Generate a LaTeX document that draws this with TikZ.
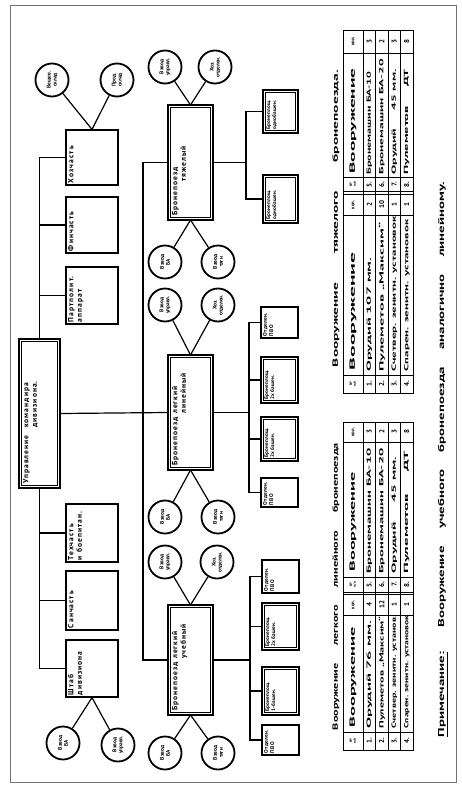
\documentclass[tikz,border=0pt]{standalone}
\usepackage{fontspec}
\usepackage{graphicx}
\usetikzlibrary{calc}
\setmainfont{PT Sans}
\newcommand\hs[2]{\resizebox{#1}{\height}{#2}}
\newcommand\bt[3]{\parbox[c][#2pt][t]{#1pt}{\raggedright #3}}
\newcommand\dfr[1]{\draw[line width=0.5pt] let \p1=(#1.north west),\p2=(#1.south east) in
  (\x1+2.5pt,\y1+2.5pt) rectangle (\x2-2.5pt,\y2-2.5pt);}
\newcommand\halfrow[8]{%
  \node[tn] at (#1,#2) {#3};
  \node[tc,anchor=west] at (#1,#4) {\hs{#5pt}{#6}};
  \node[tn] at (#1,#7) {#8};}
\begin{document}
\begin{tikzpicture}[x=1pt,y=-1pt,line width=1.2pt,
  every node/.style={rotate=90},
  bx/.style={draw,inner sep=2pt,line width=1.2pt,
    font=\fontsize{7.5}{8.5}\selectfont\bfseries\addfontfeature{LetterSpace=14}},
  dbx/.style={bx,line width=1.9pt,outer sep=0pt,inner sep=4.2pt},
  sbx/.style={bx,font=\fontsize{5.4}{6.2}\selectfont\bfseries\addfontfeature{LetterSpace=4}},
  sdbx/.style={dbx,inner sep=3.6pt,font=\fontsize{5.2}{6}\selectfont\bfseries\addfontfeature{LetterSpace=3}},
  crc/.style={draw,circle,minimum size=33pt,inner sep=0pt,line width=1.8pt,
    align=center,font=\fontsize{5.4}{5.9}\selectfont\bfseries},
  tline/.style={line width=0.8pt},
  tc/.style={inner sep=0pt,font=\fontsize{6}{6}\selectfont\bfseries},
  tn/.style={inner sep=0pt,font=\fontsize{7}{7}\selectfont\bfseries},
  th/.style={inner sep=0pt,align=center,font=\fontsize{3.6}{3.8}\selectfont\bfseries}]
\useasboundingbox (0,0) rectangle (462,787);
\fill[white] (0,0) rectangle (462,787);
\draw[line width=0.6pt,black!55] (10,5) rectangle (456,782);

% ---------- main box ----------
\node[dbx] (upr) at (39.5,413.5) {\bt{140.6}{32.6}{Управление\quad командира\\\hphantom{Управление\quad }дивизиона.}};
\dfr{upr}

% ---------- left column ----------
\node[bx] (hoz) at (92,157.5) {\bt{51}{48}{Хозчасть}};
\node[bx] (fin) at (92,225) {\bt{52}{48}{Финчасть}};
\node[bx] (part) at (92,295.5) {\bt{53}{48}{Партполит.\\аппарат}};
\node[bx] (teh) at (92,533) {\bt{54}{48}{Техчасть\\и боепитан.}};
\node[bx] (san) at (92,600.5) {\bt{55}{48}{Санчасть}};
\node[bx] (shtab) at (92,668.5) {\bt{53}{48}{Штаб\\дивизиона}};

\draw (upr.east) |- (hoz.north);
\draw (upr.east) |- (fin.north);
\draw (upr.east) |- (part.north);
\draw (upr.west) |- (teh.north);
\draw (upr.west) |- (san.north);
\draw (upr.west) |- (shtab.north);

\node[crc] (hz1) at (52,80) {Вещев.\\склад};
\node[crc] (hz2) at (117,80) {Прод.\\склад};
\draw (hoz.east) -- (hz1);
\draw (hoz.east) -- (hz2);
\node[crc] (sh1) at (63,743) {Взвод\\БА};
\node[crc] (sh2) at (118,745) {Взвод\\управл.};
\draw (shtab.west) -- (sh1);
\draw (shtab.west) -- (sh2);

% ---------- trains ----------
\node[dbx] (hv) at (190.5,162.5) {\bt{106.6}{36.6}{Бронепоезд\\\hphantom{Бронепо}тяжелый}};
\node[dbx] (ll) at (190.5,412.5) {\bt{106.6}{36.6}{Бронепоезд легкий\\\hphantom{Бронепоезд }линейный}};
\node[dbx] (tr) at (190.5,660) {\bt{101.6}{36.6}{Бронепоезд легкий\\\hphantom{Бронепоезд }учебный}};
\dfr{hv}\dfr{ll}\dfr{tr}

\coordinate (mbus) at (143,412.5);
\draw (upr.south) -- (ll.north);
\draw (mbus) |- (hv.north);
\draw (mbus) |- (tr.north);

% circles round the trains
\node[crc] (hu) at (165,67) {Взвод\\управл.};
\node[crc] (hh) at (215,67) {Хоз.\\отделен.};
\node[crc] (hb) at (165,262) {Взвод\\БА};
\node[crc] (ht) at (218,262) {Взвод\\тяги};
\draw (hv.east) -- (hu); \draw (hv.east) -- (hh);
\draw (hv.west) -- (hb); \draw (hv.west) -- (ht);

\node[crc] (lu) at (165,305) {Взвод\\управл.};
\node[crc] (lh) at (218,305) {Хоз.\\отделен.};
\node[crc] (lb) at (165,517) {Взвод\\БА};
\node[crc] (lt) at (218,517) {Взвод\\тяги};
\draw (ll.east) -- (lu); \draw (ll.east) -- (lh);
\draw (ll.west) -- (lb); \draw (ll.west) -- (lt);

\node[crc] (tu) at (165,562) {Взвод\\управл.};
\node[crc] (th) at (217,562) {Хоз.\\отделен.};
\node[crc] (tb) at (165,753) {Взвод\\БА};
\node[crc] (tt) at (218,753) {Взвод\\тяги};
\draw (tr.east) -- (tu); \draw (tr.east) -- (th);
\draw (tr.west) -- (tb); \draw (tr.west) -- (tt);

% ---------- right-hand sub-units ----------
\node[sdbx] (hb1) at (280.5,111.5) {\bt{35.8}{27.8}{Бронеплощ.\\однобашен.}};
\node[sdbx] (hb2) at (280.5,199) {\bt{40.8}{27.8}{Бронеплощ.\\однобашен.}};
\dfr{hb1}\dfr{hb2}
\coordinate (hbus) at (246,162.5);
\draw (hv.south) -- (hbus);
\draw (hbus) |- (hb1.north);
\draw (hbus) |- (hb2.north);

\node[sbx] (lp1) at (279.5,322.5) {\bt{27}{33}{Отделен.\\ПВО}};
\node[sdbx] (lb1) at (279.5,380) {\bt{38.8}{29.8}{Бронеплощ.\\2х башен.}};
\node[sdbx] (lb2) at (279.5,439) {\bt{36.8}{29.8}{Бронеплощ.\\2х башен.}};
\node[sbx] (lp2) at (279.5,492.5) {\bt{25}{33}{Отделен.\\ПВО}};
\dfr{lb1}\dfr{lb2}
\coordinate (lbus) at (249,412.5);
\draw (ll.south) -- (lbus);
\draw (lbus) |- (lp1.north);
\draw (lbus) |- (lb1.north);
\draw (lbus) |- (lb2.north);
\draw (lbus) |- (lp2.north);

\node[sbx] (tp1) at (280.5,576.5) {\bt{29}{33}{Отделен.\\ПВО}};
\node[sdbx] (tb1) at (280.5,626.5) {\bt{39.8}{29.8}{Бронеплощ.\\2х башен.}};
\node[sdbx] (tb2) at (280.5,691) {\bt{40.8}{29.8}{Бронеплощ.\\1-башен.}};
\node[sbx] (tp2) at (280.5,740) {\bt{26}{33}{Отделен.\\ПВО}};
\dfr{tb1}\dfr{tb2}
\coordinate (tbus) at (250,660);
\draw (tr.south) -- (tbus);
\draw (tbus) |- (tp1.north);
\draw (tbus) |- (tb1.north);
\draw (tbus) |- (tb2.north);
\draw (tbus) |- (tp2.north);

% ---------- heavy train table ----------
\node[inner sep=0pt,font=\fontsize{7.5}{8}\selectfont\bfseries] (t1) at (336,218.5)
  {\hs{297pt}{Вооружение\hspace{14pt}тяжелого\hspace{14pt}бронепоезда.}};
\draw[tline] (343,30) rectangle (413,393);
\foreach \x in {363,375.5,388,400.5} \draw[tline] (\x,30) -- (\x,393);
\foreach \y in {375,215,194.5,191.5,177,53} \draw[tline] (343,\y) -- (413,\y);
\node[th] at (353,384) {№\\п/п};
\node[tc,anchor=west] at (353,371) {\hs{118pt}{\fontsize{7.5}{7.5}\selectfont Вооружение}};
\node[tc] at (353,204.75) {\fontsize{5}{5}\selectfont кол.};
\node[th] at (353,184.25) {№\\п/п};
\node[tc,anchor=west] at (353,174) {\hs{105pt}{\fontsize{7.5}{7.5}\selectfont Вооружение}};
\node[tc] at (353,41.5) {\fontsize{5}{5}\selectfont кол.};
\halfrow{369.25}{384}{1.}{372}{114}{Орудий 107 мм.}{204.75}{2}
\halfrow{381.75}{384}{2.}{372}{149}{Пулеметов „Максим“}{204.75}{10}
\halfrow{394.25}{384}{3.}{372}{155}{Счетвер. зенитн. установок}{204.75}{1}
\halfrow{406.75}{384}{4.}{372}{152}{Спарен. зенитн. установок}{204.75}{1}
\halfrow{369.25}{184.25}{5.}{175}{103}{Бронемашин БА-10}{41.5}{3}
\halfrow{381.75}{184.25}{6.}{175}{115}{Бронемашин БА-20}{41.5}{2}
\halfrow{394.25}{184.25}{7.}{175}{105}{Орудий\hspace{8pt}45 мм.}{41.5}{3}
\halfrow{406.75}{184.25}{8.}{175}{105}{Пулеметов\hspace{8pt}ДТ}{41.5}{8}

% ---------- light train table ----------
\node[inner sep=0pt,font=\fontsize{7.5}{8}\selectfont\bfseries] (t2) at (336,586.5)
  {\hs{287pt}{Вооружение\hspace{11pt}легкого\hspace{11pt}линейного\hspace{11pt}бронепоезда}};
\draw[tline] (343,422) rectangle (413,750);
\foreach \x in {363,375.5,388,400.5} \draw[tline] (\x,422) -- (\x,750);
\foreach \y in {732,615,594.5,592,577,442} \draw[tline] (343,\y) -- (413,\y);
\node[th] at (353,741) {№\\п/п};
\node[tc,anchor=west] at (353,728) {\hs{100pt}{\fontsize{7.5}{7.5}\selectfont Вооружение}};
\node[tc] at (353,604.75) {\fontsize{5}{5}\selectfont кол.};
\node[th] at (353,584.5) {№\\п/п};
\node[tc,anchor=west] at (353,572) {\hs{99pt}{\fontsize{7.5}{7.5}\selectfont Вооружение}};
\node[tc] at (353,432) {\fontsize{5}{5}\selectfont кол.};
\halfrow{369.25}{741}{1.}{729}{108}{Орудий 76 мм.}{604.75}{4}
\halfrow{381.75}{741}{2.}{729}{112}{Пулеметов „Максим“}{604.75}{12}
\halfrow{394.25}{741}{3.}{729}{113}{Счетвер. зенитн. установ.}{604.75}{1}
\halfrow{406.75}{741}{4.}{729}{113}{Спарен. зенитн. установок}{604.75}{1}
\halfrow{369.25}{584.5}{5.}{574}{125}{Бронемашин БА-10}{432}{3}
\halfrow{381.75}{584.5}{6.}{574}{125}{Бронемашин БА-20}{432}{2}
\halfrow{394.25}{584.5}{7.}{574}{117}{Орудий\hspace{8pt}45 мм.}{432}{3}
\halfrow{406.75}{584.5}{8.}{574}{122}{Пулеметов\hspace{8pt}ДТ}{432}{8}

% ---------- note ----------
\node[inner sep=0pt,font=\fontsize{8.5}{9}\selectfont\bfseries] (note) at (443,459.5)
  {\hs{555pt}{\underline{Примечание:}\hspace{14pt}Вооружение\hspace{10pt}учебного\hspace{10pt}бронепоезда\hspace{10pt}аналогично\hspace{10pt}линейному.}};
\end{tikzpicture}
\end{document}
